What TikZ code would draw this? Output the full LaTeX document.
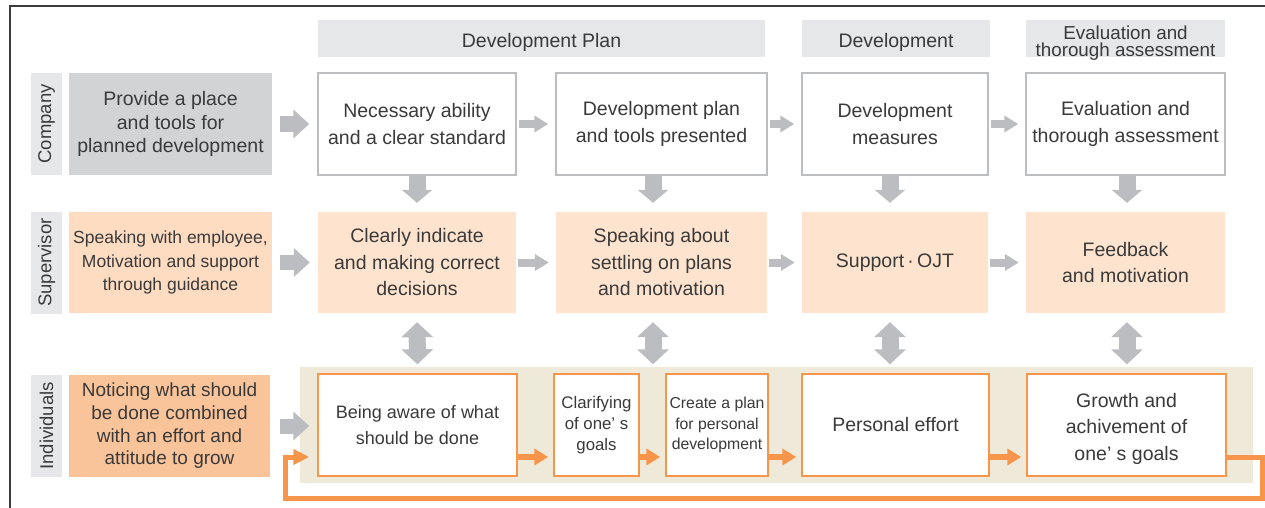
\documentclass[tikz,border=0pt]{standalone}
\usepackage{fontspec}
\setmainfont{Liberation Sans}
\usetikzlibrary{arrows.meta}

\definecolor{txtgray}{HTML}{3A3A3A}
\definecolor{hdrgray}{HTML}{E6E7E8}
\definecolor{provgray}{HTML}{D1D3D4}
\definecolor{linegray}{HTML}{BCBEC0}
\definecolor{arrowgray}{HTML}{BCBDC0}
\definecolor{suppeach}{HTML}{FEE4CF}
\definecolor{supleft}{HTML}{FDDCC2}
\definecolor{indorange}{HTML}{FAC49A}
\definecolor{panelbeige}{HTML}{EFE9DA}
\definecolor{loopor}{HTML}{F7964A}
\definecolor{framegray}{HTML}{3C3C3C}

\newcommand{\lowerstrut}[1]{\rule{0pt}{#1}}
\newcommand{\nodepth}[1]{\raisebox{0pt}[\height][0pt]{#1}}

\tikzset{
  hdrbox/.style={fill=hdrgray, inner sep=0pt, minimum height=37pt, align=center,
    font=\fontsize{19.5}{17}\selectfont},
  rowlabel/.style={fill=hdrgray, inner sep=0pt, rotate=90, minimum width=102pt,
    minimum height=31pt, font=\fontsize{18.5}{22}\selectfont},
  leftbox/.style={inner sep=0pt, minimum width=203pt, minimum height=102pt, align=center},
  stepbox/.style={draw=linegray, line width=1.4pt, fill=white, inner sep=0pt,
    minimum height=102pt, align=center, font=\fontsize{19.5}{26.5}\selectfont},
  supbox/.style={fill=suppeach, inner sep=0pt, minimum height=101pt, align=center,
    font=\fontsize{19.5}{26.5}\selectfont},
  indbox/.style={draw=loopor, line width=1.4pt, fill=white, inner sep=0pt,
    minimum height=102pt, align=center, font=\fontsize{19.5}{26.5}\selectfont},
  bigarrow/.style={draw=arrowgray, line width=15pt, -{Triangle[width=28pt,length=16pt]},
    shorten <=8pt, shorten >=8pt},
  smallarrow/.style={draw=arrowgray, line width=8pt, -{Triangle[width=16pt,length=14pt]},
    shorten <=2pt, shorten >=7pt},
  downarrow/.style={draw=arrowgray, line width=17pt, -{Triangle[width=30pt,length=13pt]},
    shorten >=9pt},
  bothway/.style={draw=arrowgray, line width=17pt,
    {Triangle[width=31pt,length=15pt]}-{Triangle[width=31pt,length=15pt]},
    shorten <=9pt, shorten >=9pt},
  orangearrow/.style={draw=loopor, line width=5.5pt, -{Triangle[width=16pt,length=14pt]},
    shorten >=5pt},
  loopline/.style={draw=loopor, line width=5pt, -{Triangle[width=15pt,length=16pt]},
    shorten >=8pt}
}

\begin{document}
\begin{tikzpicture}[x=1pt,y=-1pt, every node/.style={text=txtgray}]

  \useasboundingbox (0,0) rectangle (1265,508);

  % frame
  \draw[framegray, line width=1.5pt] (10,508) -- (10,6) -- (1265,6);

  % beige panel behind the individuals row
  \fill[panelbeige] (300,367) rectangle (1253,483);

  % stage headers
  \begin{scope}[every node/.style={hdrbox, text=txtgray}]
    \node[minimum width=447pt] (h1) at (541.5,38.5) {\lowerstrut{21.5pt}Development Plan};
    \node[minimum width=188pt] (h2) at (896,38.5) {\lowerstrut{21.5pt}Development};
    \node[minimum width=199pt, font=\fontsize{18.8}{17}\selectfont] (h3) at (1125.5,38.5)
      {\lowerstrut{19pt}Evaluation and\\\nodepth{thorough assessment}};
  \end{scope}

  % row labels
  \begin{scope}[every node/.style={rowlabel, text=txtgray}]
    \node (lc) at (46.5,124) {Company};
    \node (ls) at (46.5,262.5) {Supervisor};
    \node (li) at (46.5,426) {Individuals};
  \end{scope}

  % left column
  \node[leftbox, fill=provgray, font=\fontsize{19.5}{23.5}\selectfont] (c0) at (170.5,124)
    {Provide a place\\and tools for\\planned development};
  \node[leftbox, fill=supleft, minimum height=101pt, font=\fontsize{17.5}{23.5}\selectfont] (s0) at (170.5,262.5)
    {Speaking with employee,\\Motivation and support\\through guidance};
  \node[leftbox, fill=indorange, minimum width=201pt, font=\fontsize{19}{22.7}\selectfont] (i0) at (169.5,426)
    {Noticing what should\\be done combined\\with an effort and\\attitude to grow};

  % company row
  \begin{scope}[every node/.style={stepbox, text=txtgray}]
    \node[minimum width=198pt] (c1) at (417,124) {Necessary ability\\and a clear standard};
    \node[minimum width=211pt] (c2) at (661.5,124) {Development plan\\and tools presented};
    \node[minimum width=186pt] (c3) at (895,124) {Development\\measures};
    \node[minimum width=199pt] (c4) at (1125.5,124) {Evaluation and\\thorough assessment};
  \end{scope}

  % supervisor row
  \begin{scope}[every node/.style={supbox, text=txtgray}]
    \node[minimum width=198pt] (s1) at (417,262.5) {Clearly indicate\\and making correct\\decisions};
    \node[minimum width=211pt] (s2) at (661.5,262.5) {Speaking about\\settling on plans\\and motivation};
    \node[minimum width=186pt] (s3) at (895,262.5) {Support\,·\,OJT};
    \node[minimum width=199pt] (s4) at (1125.5,262.5) {Feedback\\and motivation};
  \end{scope}

  % individuals row
  \begin{scope}[every node/.style={indbox, text=txtgray}]
    \node[minimum width=199pt, font=\fontsize{18}{26}\selectfont] (b1) at (417.5,425) {Being aware of what\\should be done};
    \node[minimum width=85pt, font=\fontsize{16.8}{21}\selectfont] (b2) at (596.5,425) {Clarifying\\of one’ s\\goals};
    \node[minimum width=102pt, font=\fontsize{15.8}{20.5}\selectfont] (b3) at (717,425) {Create a plan\\for personal\\development};
    \node[minimum width=187pt] (b4) at (895.5,425) {Personal effort};
    \node[minimum width=199pt] (b5) at (1126.5,425) {\lowerstrut{22pt}Growth and\\achivement of\\one’ s goals};
  \end{scope}

  % gray arrows
  \draw[bigarrow] (c0) -- (c1);
  \draw[bigarrow] (s0) -- (s1);
  \draw[bigarrow, shorten <=10pt] (i0.east) -- (b1.west |- i0.east);

  \draw[smallarrow] (c1) -- (c2);
  \draw[smallarrow] (c2) -- (c3);
  \draw[smallarrow] (c3) -- (c4);
  \draw[smallarrow] (s1) -- (s2);
  \draw[smallarrow] (s2) -- (s3);
  \draw[smallarrow] (s3) -- (s4);

  \draw[downarrow] (c1.south) -- (s1.north);
  \draw[downarrow] ([xshift=-8.5pt]c2.south) -- ([xshift=-8.5pt]s2.north);
  \draw[downarrow] ([xshift=-5pt]c3.south) -- ([xshift=-5pt]s3.north);
  \draw[downarrow] ([xshift=1.5pt]c4.south) -- ([xshift=1.5pt]s4.north);

  \draw[bothway] (s1.south) -- (b1.north);
  \draw[bothway] ([xshift=-8.5pt]s2.south) -- ([xshift=-8.5pt]s2.south |- b2.north);
  \draw[bothway] ([xshift=-5pt]s3.south) -- ([xshift=-5.5pt]b4.north);
  \draw[bothway] ([xshift=1.5pt]s4.south) -- ([xshift=0.5pt]b5.north);

  % orange flow along the individuals row
  \coordinate (lane) at (0,457);
  \coordinate (loopR) at (1262,498);
  \coordinate (loopL) at (285,498);
  \draw[orangearrow] (b1.east |- lane) -- (b2.west |- lane);
  \draw[orangearrow] (b2.east |- lane) -- (b3.west |- lane);
  \draw[orangearrow] (b3.east |- lane) -- (b4.west |- lane);
  \draw[orangearrow] (b4.east |- lane) -- (b5.west |- lane);
  \draw[loopline] (b5.east |- lane) -| (loopR) -- (loopL) |- (b1.west |- lane);

\end{tikzpicture}
\end{document}
